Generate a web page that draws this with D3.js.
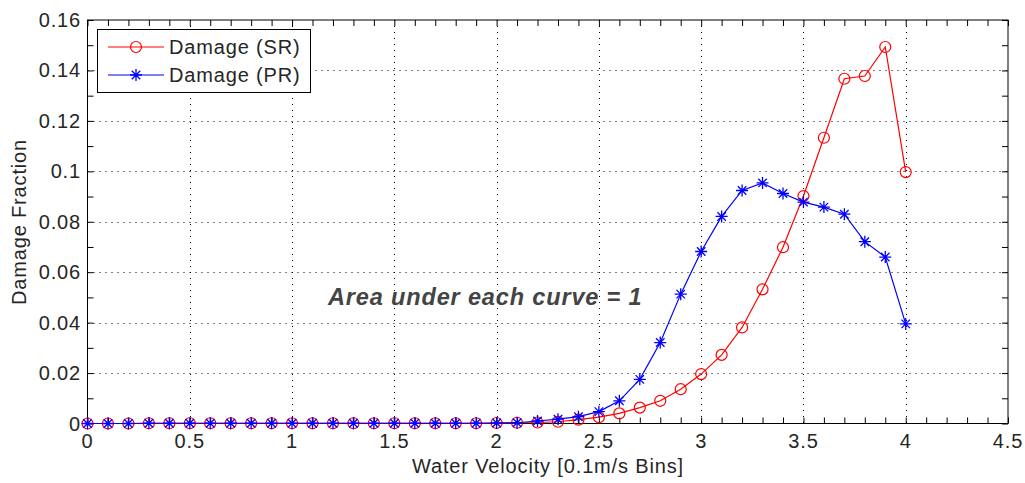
<!DOCTYPE html>
<html>
<head>
<meta charset="utf-8">
<script src="https://cdn.jsdelivr.net/npm/d3@7/dist/d3.min.js"></script>
<style>
  body { margin: 0; background: #fff; }
  svg text { font-family: "Liberation Sans", Arial, sans-serif; fill: #262626; letter-spacing: 0.85px; }
  .grid line { stroke: #000; stroke-width: 1; stroke-dasharray: 1 5; }
</style>
</head>
<body>
<svg id="chart" width="1025" height="483"></svg>
<script>
// Water velocity bins (0.1 m/s), 0 .. 4.0
var velocity = [0, 0.1, 0.2, 0.3, 0.4, 0.5, 0.6, 0.7, 0.8, 0.9,
    1.0, 1.1, 1.2, 1.3, 1.4, 1.5, 1.6, 1.7, 1.8, 1.9,
    2.0, 2.1, 2.2, 2.3, 2.4, 2.5, 2.6, 2.7, 2.8, 2.9,
    3.0, 3.1, 3.2, 3.3, 3.4, 3.5, 3.6, 3.7, 3.8, 3.9, 4.0];

var damageSR = [0, 0, 0, 0.0001, 0.0001, 0.0001, 0.0001, 0.0001, 0.0001, 0.0001,
    0.0001, 0.0001, 0.0001, 0.0001, 0.0001, 0.0001, 0.0001, 0.0001, 0.0001, 0.0001,
    0.0002, 0.0003, 0.0004, 0.0007, 0.0015, 0.0025, 0.004, 0.0063, 0.009, 0.0136,
    0.0196, 0.0272, 0.0381, 0.0532, 0.0699, 0.0902, 0.1133, 0.1367, 0.1378, 0.1493, 0.0997];

var damagePR = [0, 0, 0, 0.0001, 0.0001, 0.0001, 0.0001, 0.0001, 0.0001, 0.0001,
    0.0001, 0.0001, 0.0001, 0.0001, 0.0001, 0.0001, 0.0001, 0.0001, 0.0001, 0.0001,
    0.0002, 0.0003, 0.001, 0.0017, 0.0027, 0.0047, 0.009, 0.0175, 0.0321, 0.0513,
    0.0682, 0.0821, 0.0924, 0.0954, 0.0912, 0.0878, 0.0858, 0.083, 0.0721, 0.066, 0.0395];

var xTicks = [0, 0.5, 1, 1.5, 2, 2.5, 3, 3.5, 4, 4.5];
var yTicks = [0, 0.02, 0.04, 0.06, 0.08, 0.1, 0.12, 0.14, 0.16];
var seriesNames = ["Damage (SR)", "Damage (PR)"];

var svg = d3.select('#chart');
var margin = {left: 87.5, right: 1008, top: 20, bottom: 423.5};

var x = d3.scaleLinear().domain([0, 4.5]).range([margin.left, margin.right]);
var y = d3.scaleLinear().domain([0, 0.16]).range([margin.bottom, margin.top]);

var xMinor = d3.range(0, 45.5).map(function (d) { return d / 10; });
var yMinor = d3.range(0, 16.5).map(function (d) { return d / 100; });

/*
 Grid
 */
var grid = svg.append('g').classed('grid', true);
grid.selectAll('.gx').data(xTicks.slice(1, -1)).enter().append('line')
    .attr('x1', function (d) { return Math.round(x(d)) + 0.5; })
    .attr('x2', function (d) { return Math.round(x(d)) + 0.5; })
    .attr('y1', margin.top)
    .attr('y2', margin.bottom);
grid.selectAll('.gy').data(yTicks.slice(1, -1)).enter().append('line')
    .attr('y1', function (d) { return Math.round(y(d)) + 0.5; })
    .attr('y2', function (d) { return Math.round(y(d)) + 0.5; })
    .attr('x1', margin.left)
    .attr('x2', margin.right);

/*
 Axes (MATLAB style, inward ticks on all four sides)
 */
function tickFmt(d) { return d3.format('')(+d.toFixed(2)); }

var axisG = svg.append('g');
axisG.append('g')
    .attr('transform', 'translate(0,' + margin.bottom + ')')
    .call(d3.axisBottom(x).tickValues(xMinor).tickSize(-6).tickFormat(''));
axisG.append('g')
    .attr('transform', 'translate(0,' + margin.top + ')')
    .call(d3.axisTop(x).tickValues(xMinor).tickSize(-6).tickFormat(''));
axisG.append('g')
    .attr('transform', 'translate(' + margin.left + ',0)')
    .call(d3.axisLeft(y).tickValues(yMinor).tickSize(-6).tickFormat(''));
axisG.append('g')
    .attr('transform', 'translate(' + margin.right + ',0)')
    .call(d3.axisRight(y).tickValues(yMinor).tickSize(-6).tickFormat(''));
axisG.selectAll('.domain').remove();
axisG.selectAll('line').attr('stroke', '#000');

svg.append('rect')
    .attr('x', margin.left)
    .attr('y', margin.top)
    .attr('width', margin.right - margin.left)
    .attr('height', margin.bottom - margin.top)
    .attr('fill', 'none')
    .attr('stroke', '#000')
    .attr('stroke-width', 1);

svg.selectAll('.xlabel').data(xTicks).enter().append('text')
    .attr('x', function (d) { return x(d); })
    .attr('y', 448)
    .attr('text-anchor', 'middle')
    .style('font-size', '20px')
    .text(tickFmt);

svg.selectAll('.ylabel').data(yTicks).enter().append('text')
    .attr('x', 81)
    .attr('y', function (d) { return y(d) + 7; })
    .attr('text-anchor', 'end')
    .style('font-size', '20px')
    .text(tickFmt);

svg.append('text')
    .attr('x', 548)
    .attr('y', 473)
    .attr('text-anchor', 'middle')
    .style('font-size', '20px')
    .text('Water Velocity [0.1m/s Bins]');

svg.append('text')
    .attr('transform', 'translate(26,222) rotate(-90)')
    .attr('text-anchor', 'middle')
    .style('font-size', '20px')
    .text('Damage Fraction');

/*
 Series
 */
var line = d3.line()
    .x(function (d) { return x(d[0]); })
    .y(function (d) { return y(d[1]); });

function starPath(cx, cy, r) {
    var d = '';
    [0, 45, 90, 135].forEach(function (a) {
        var rad = a * Math.PI / 180;
        var dx = r * Math.cos(rad), dy = r * Math.sin(rad);
        d += 'M' + (cx - dx) + ',' + (cy - dy) + 'L' + (cx + dx) + ',' + (cy + dy);
    });
    return d;
}

var prData = velocity.map(function (v, i) { return [v, damagePR[i]]; });
var srData = velocity.map(function (v, i) { return [v, damageSR[i]]; });

var plot = svg.append('g');

plot.append('path')
    .datum(srData)
    .attr('d', line)
    .attr('fill', 'none')
    .attr('stroke', '#ff0000')
    .attr('stroke-width', 1.2);

plot.selectAll('.sr').data(srData).enter().append('circle')
    .classed('sr', true)
    .attr('cx', function (d) { return x(d[0]); })
    .attr('cy', function (d) { return y(d[1]); })
    .attr('r', 5.5)
    .attr('fill', 'none')
    .attr('stroke', '#ff0000')
    .attr('stroke-width', 1.2);

plot.append('path')
    .datum(prData)
    .attr('d', line)
    .attr('fill', 'none')
    .attr('stroke', '#0000ff')
    .attr('stroke-width', 1.2);

plot.selectAll('.pr').data(prData).enter().append('path')
    .classed('pr', true)
    .attr('d', function (d) { return starPath(x(d[0]), y(d[1]), 6); })
    .attr('stroke', '#0000ff')
    .attr('stroke-width', 1.3);

svg.append('text')
    .attr('x', 328)
    .attr('y', 305)
    .style('font-size', '23.5px')
    .style('font-weight', 'bold')
    .style('font-style', 'italic')
    .style('fill', '#444')
    .text('Area under each curve = 1');

/*
 Legend
 */
var legend = svg.append('g');
legend.append('rect')
    .attr('x', 97.5)
    .attr('y', 29.5)
    .attr('width', 213)
    .attr('height', 63)
    .attr('fill', '#fff')
    .attr('stroke', '#000');

var legendColors = ['#ff0000', '#0000ff'];
var items = legend.selectAll('.item').data(seriesNames).enter().append('g')
    .attr('transform', function (d, i) { return 'translate(0,' + (47 + i * 28) + ')'; });

items.append('line')
    .attr('x1', 108).attr('x2', 164)
    .attr('stroke', function (d, i) { return legendColors[i]; })
    .attr('stroke-width', 1.2);

items.each(function (d, i) {
    var g = d3.select(this);
    if (i === 0) {
        g.append('circle').attr('cx', 136).attr('cy', 0).attr('r', 5.5)
            .attr('fill', 'none').attr('stroke', '#ff0000').attr('stroke-width', 1.2);
    } else {
        g.append('path').attr('d', starPath(136, 0, 6))
            .attr('stroke', '#0000ff').attr('stroke-width', 1.3);
    }
});

items.append('text')
    .attr('x', 169)
    .attr('y', 7)
    .style('font-size', '20px')
    .text(function (d) { return d; });
</script>
</body>
</html>
